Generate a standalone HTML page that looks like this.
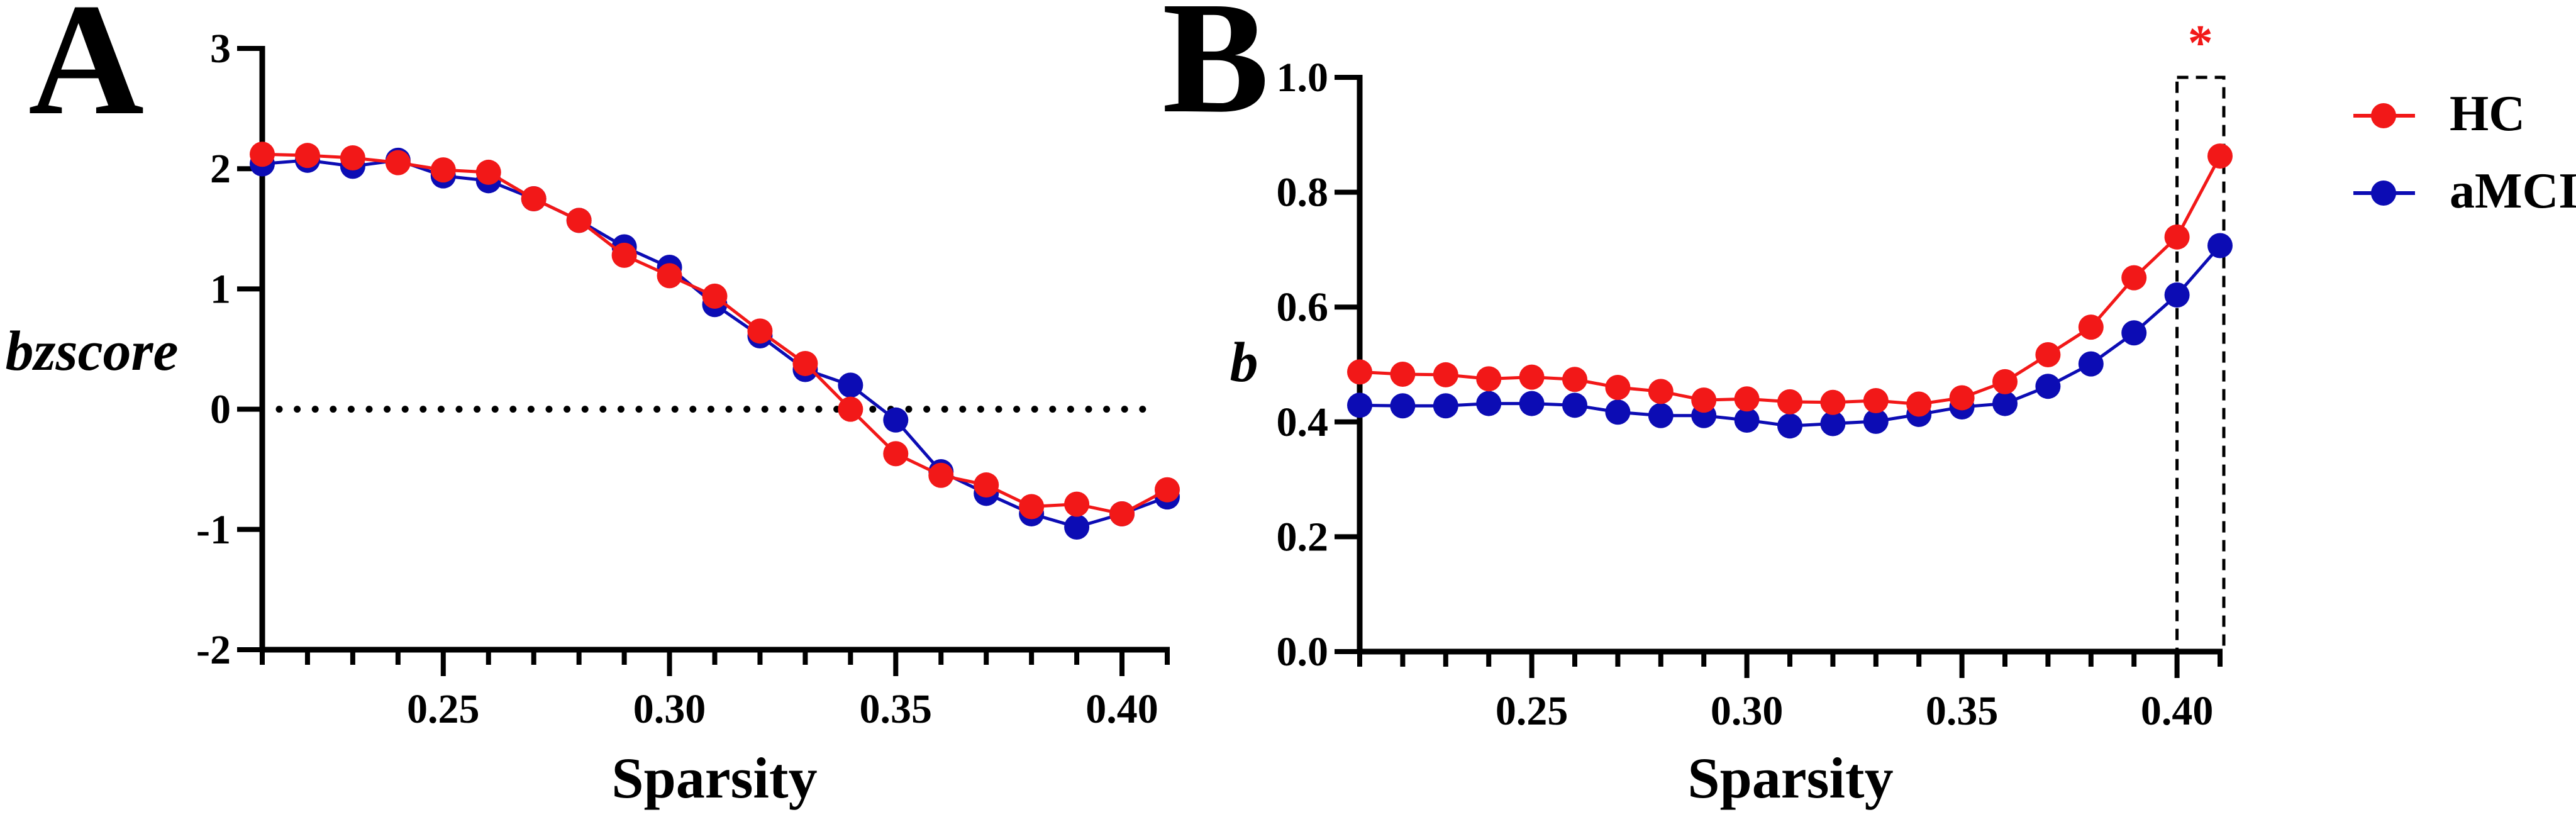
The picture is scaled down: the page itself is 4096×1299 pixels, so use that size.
<!DOCTYPE html>
<html><head><meta charset="utf-8"><style>
html,body{margin:0;padding:0;background:#fff;}
svg{display:block;font-family:"Liberation Serif",serif;font-weight:bold;}
svg text{font-family:"Liberation Serif",serif;font-weight:bold;}
</style></head><body>
<svg id="chart" width="4096" height="1299" viewBox="0 0 4096 1299" xmlns="http://www.w3.org/2000/svg" font-family="Liberation Serif, serif" font-weight="bold">
<text x="45" y="180" font-size="255" font-family="Liberation Serif, serif">A</text>
<text x="1848" y="177" font-size="255" font-family="Liberation Serif, serif">B</text>
<g id="pa"></g>
<g id="pb"></g>
<g>
<g>
<line x1="3742" y1="184" x2="3840" y2="184" stroke="#f21818" stroke-width="6"/>
<circle cx="3790" cy="184" r="20" fill="#f21818"/>
<text x="3895" y="207" font-size="80" font-family="Liberation Serif, serif">HC</text></g>
<g>
<line x1="3742" y1="307" x2="3840" y2="307" stroke="#0c0cb4" stroke-width="6"/>
<circle cx="3790" cy="307" r="20" fill="#0c0cb4"/>
<text x="3895" y="330" font-size="80" font-family="Liberation Serif, serif">aMCI</text></g>
</g>
</svg>
<script>
const sparsity=[0.21,0.22,0.23,0.24,0.25,0.26,0.27,0.28,0.29,0.30,0.31,0.32,0.33,0.34,0.35,0.36,0.37,0.38,0.39,0.40,0.41];
const bzHC=[2.12,2.11,2.09,2.05,1.99,1.97,1.75,1.57,1.28,1.11,0.94,0.65,0.38,0.0,-0.37,-0.55,-0.63,-0.81,-0.79,-0.87,-0.67];
const bzAMCI=[2.04,2.07,2.02,2.07,1.94,1.90,1.75,1.57,1.35,1.18,0.87,0.61,0.33,0.20,-0.09,-0.52,-0.70,-0.87,-0.98,-0.87,-0.73];
const bHC=[0.487,0.483,0.482,0.475,0.478,0.474,0.460,0.453,0.438,0.440,0.435,0.434,0.437,0.431,0.442,0.470,0.517,0.565,0.651,0.722,0.863];
const bAMCI=[0.429,0.428,0.428,0.432,0.432,0.429,0.417,0.411,0.411,0.403,0.393,0.397,0.401,0.413,0.426,0.432,0.462,0.501,0.555,0.621,0.707];
const xTicks=[0.25,0.30,0.35,0.40];
const xTickLabels=["0.25","0.30","0.35","0.40"];
const aYTicks=[-2,-1,0,1,2,3];
const aYTickLabels=["-2","-1","0","1","2","3"];
const bYTicks=[0,0.2,0.4,0.6,0.8,1.0];
const bYTickLabels=["0.0","0.2","0.4","0.6","0.8","1.0"];
const NS="http://www.w3.org/2000/svg";
function mk(p,t,a){const e=document.createElementNS(NS,t);for(const k in a)e.setAttribute(k,a[k]);if(t==='text'){e.setAttribute('font-family','Liberation Serif, serif');e.setAttribute('font-weight','bold');}p.appendChild(e);return e;}
const RED="#f21818",BLUE="#0c0cb4";
function panel(g,o){
  const xs=v=>o.x0+(v-0.21)/(0.41-0.21)*(o.x1-o.x0);
  const ys=v=>o.yB+(v-o.ymin)/(o.ymax-o.ymin)*(o.yT-o.yB);
  if(o.extra)o.extra(g,xs,ys);
  const ax=mk(g,'line',{x1:o.x0,y1:o.yT-4,x2:o.x0,y2:o.yB+4,stroke:'#000','stroke-width':9});
  
  
  const bx=mk(g,'line',{x1:o.x0-4,y1:o.yB,x2:o.x1+4,y2:o.yB,stroke:'#000','stroke-width':9});
  
  
  for(let i=0;i<=20;i++){
    const v=0.21+i*0.01;const major=xTicks.some(t=>Math.abs(t-v)<1e-6);
    const t=mk(g,'line',{x1:xs(v),y1:o.yB,x2:xs(v),y2:o.yB+(major?42:24),stroke:'#000','stroke-width':8});
    
    
  }
  xTicks.forEach((v,i)=>{const t=mk(g,'text',{x:xs(v),y:o.yB+116,'font-size':66,'text-anchor':'middle'});t.textContent=xTickLabels[i];
    
    });
  o.yt.forEach((v,i)=>{
    const t=mk(g,'line',{x1:o.x0-40,y1:ys(v),x2:o.x0,y2:ys(v),stroke:'#000','stroke-width':8});
    
    
    const l=mk(g,'text',{x:o.x0-50,y:ys(v)+22,'font-size':66,'text-anchor':'end'});l.textContent=o.yl[i];
    
    
  });
  const xl=mk(g,'text',{x:o.xlx,y:1268,'font-size':92,'text-anchor':'middle'});xl.textContent='Sparsity';
  
  
  const yl=mk(g,'text',{x:o.ylx,y:o.yly,'font-size':90,'text-anchor':'middle','font-style':'italic'});yl.textContent=o.ytitle;
  
  
  [[o.s2,BLUE,'amci'],[o.s1,RED,'hc']].forEach(([s,c,n])=>{
    const sg=mk(g,'g',{});
    
    
    const pl=mk(sg,'polyline',{points:s.map((v,i)=>xs(sparsity[i])+','+ys(v)).join(' '),fill:'none',stroke:c,'stroke-width':5});
    
    
    s.forEach((v,i)=>{const p=mk(sg,'circle',{cx:xs(sparsity[i]),cy:ys(v),r:20,fill:c});
      
      });
  });
}
panel(document.getElementById('pa'),{x0:417,x1:1856,yT:77,yB:1033,ymin:-2,ymax:3,yt:aYTicks,yl:aYTickLabels,s1:bzHC,s2:bzAMCI,xlx:1136,ylx:146,yly:588,ytitle:'bzscore',
  extra:(g,xs,ys)=>{const d=mk(g,'line',{x1:444,y1:ys(0),x2:1832,y2:ys(0),stroke:'#000','stroke-width':11,'stroke-dasharray':'0 28.6','stroke-linecap':'round'});
    
    }});
panel(document.getElementById('pb'),{x0:2162,x1:3530,yT:123,yB:1036,ymin:0,ymax:1,yt:bYTicks,yl:bYTickLabels,s1:bHC,s2:bAMCI,xlx:2847,ylx:1978,yly:606,ytitle:'b',
  extra:(g,xs,ys)=>{const r=mk(g,'rect',{x:xs(0.40),y:ys(1.0),width:xs(0.41)-xs(0.40)+6,height:ys(0)-ys(1.0),fill:'none',stroke:'#000','stroke-width':5,'stroke-dasharray':'18 12'});
    
    
    const s=mk(g,'text',{x:(xs(0.40)+xs(0.41))/2+3,y:95,'font-size':80,'text-anchor':'middle',fill:RED});s.textContent='*';
    
    }});
</script>
</body></html>
